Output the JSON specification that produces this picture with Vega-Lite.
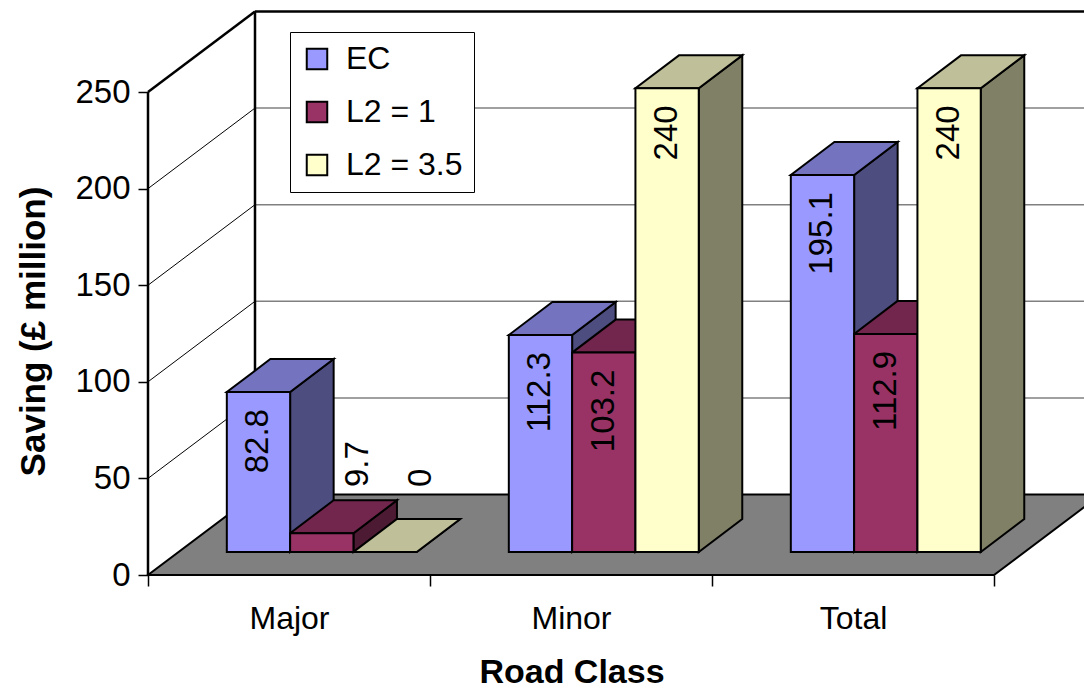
{
  "$schema": "https://vega.github.io/schema/vega-lite/v6.json",
  "width": 936,
  "height": 564,
  "autosize": {"type": "none"},
  "padding": {"left": 148, "top": 11, "right": 0, "bottom": 114},
  "background": "white",
  "config": {"view": {"stroke": null}, "font": "Liberation Sans"},
  "resolve": {"axis": {"x": "independent", "y": "independent"}},
  "datasets": {
    "savings": [
      {"road": "Major", "series": "EC", "value": 82.8},
      {"road": "Major", "series": "L2 = 1", "value": 9.7},
      {"road": "Major", "series": "L2 = 3.5", "value": 0},
      {"road": "Minor", "series": "EC", "value": 112.3},
      {"road": "Minor", "series": "L2 = 1", "value": 103.2},
      {"road": "Minor", "series": "L2 = 3.5", "value": 240},
      {"road": "Total", "series": "EC", "value": 195.1},
      {"road": "Total", "series": "L2 = 1", "value": 112.9},
      {"road": "Total", "series": "L2 = 3.5", "value": 240}
    ],
    "gridlines": [{"v": 0}, {"v": 50}, {"v": 100}, {"v": 150}, {"v": 200}, {"v": 250}],
    "planes": [{"edge": "front"}, {"edge": "back"}]
  },
  "layer": [
    {
      "data": {"name": "planes"},
      "transform": [
        {"calculate": "datum.edge === 'back' ? 1 : 0", "as": "t"},
        {"calculate": "datum.t * 41.667", "as": "fy"},
        {"calculate": "datum.t * 0.37943", "as": "fx0"},
        {"calculate": "3 + datum.t * 0.37943", "as": "fx1"}
      ],
      "mark": {"type": "area", "orient": "horizontal", "fill": "#808080", "stroke": "black", "strokeWidth": 2},
      "encoding": {
        "y": {"field": "fy", "type": "quantitative", "scale": {"domain": [0, 291.93], "nice": false, "zero": false}, "axis": null},
        "x": {"field": "fx0", "type": "quantitative", "stack": null, "scale": {"domain": [0, 3.31915], "nice": false, "zero": false}, "axis": null},
        "x2": {"field": "fx1"}
      }
    },
    {
      "data": {"name": "gridlines"},
      "transform": [
        {"calculate": "datum.v + 41.667", "as": "vb"},
        {"calculate": "0", "as": "gx0"},
        {"calculate": "0.37943", "as": "gx1"}
      ],
      "mark": {"type": "rule", "color": "black"},
      "encoding": {
        "x": {
          "field": "gx0", "type": "quantitative",
          "scale": {"domain": [0, 3.31915], "nice": false, "zero": false},
          "axis": {
            "orient": "bottom",
            "values": [0, 0.5, 1, 1.5, 2, 2.5, 3],
            "labelExpr": "datum.value % 1 === 0 ? '' : ['Major','Minor','Total'][floor(datum.value)]",
            "domain": false, "grid": false, "tickSize": 11, "tickColor": "black", "tickWidth": 1.5,
            "tickOpacity": {"condition": {"test": "datum.value % 1 !== 0", "value": 0}, "value": 1},
            "labelFontSize": 32, "labelColor": "black", "labelPadding": 42, "labelBaseline": "alphabetic",
            "labelFlush": false, "labelOverlap": false,
            "title": "Road Class", "titleFontSize": 34, "titleFontWeight": "bold", "titleColor": "black",
            "titleX": 423.5, "titleY": 107, "titleAlign": "center", "titleBaseline": "alphabetic"
          }
        },
        "x2": {"field": "gx1"},
        "y": {
          "field": "v", "type": "quantitative",
          "scale": {"domain": [0, 291.93], "nice": false, "zero": false},
          "axis": {
            "orient": "left",
            "values": [0, 50, 100, 150, 200, 250],
            "domain": false, "grid": false, "ticks": true, "tickSize": 10, "tickColor": "black", "tickWidth": 1.5,
            "labelFontSize": 33, "labelColor": "black", "labelPadding": 8, "labelOverlap": false,
            "title": "Saving (£ million)", "titleFontSize": 35, "titleFontWeight": "bold", "titleColor": "black",
            "titleAngle": 270, "titleX": -115, "titleY": 320, "titleAlign": "center", "titleBaseline": "middle"
          }
        },
        "y2": {"field": "vb"},
        "strokeOpacity": {"condition": {"test": "datum.v === 0", "value": 0}, "value": 1},
        "strokeWidth": {"condition": {"test": "datum.v === 250", "value": 2.5}, "value": 1}
      }
    },
    {
      "data": {"name": "gridlines"},
      "transform": [
        {"filter": "datum.v > 0"},
        {"calculate": "datum.v + 41.667", "as": "vb"},
        {"calculate": "0.37943", "as": "gx0"},
        {"calculate": "3.5", "as": "gx1"}
      ],
      "mark": {"type": "rule"},
      "encoding": {
        "x": {"field": "gx0", "type": "quantitative", "scale": {"domain": [0, 3.31915], "nice": false, "zero": false}, "axis": null},
        "x2": {"field": "gx1"},
        "y": {"field": "vb", "type": "quantitative", "scale": {"domain": [0, 291.93], "nice": false, "zero": false}, "axis": null},
        "color": {"condition": {"test": "datum.v === 250", "value": "black"}, "value": "#808080"},
        "strokeWidth": {"condition": {"test": "datum.v === 250", "value": 2.5}, "value": 1.5}
      }
    },
    {
      "data": {"name": "planes"},
      "transform": [
        {"calculate": "datum.edge === 'back' ? 1 : 0", "as": "t"},
        {"calculate": "datum.t * 0.37943", "as": "ex"},
        {"calculate": "datum.t * 41.667", "as": "ey0"},
        {"calculate": "250 + datum.t * 41.667", "as": "ey1"}
      ],
      "mark": {"type": "rule", "color": "black", "strokeWidth": 2.5},
      "encoding": {
        "x": {"field": "ex", "type": "quantitative", "scale": {"domain": [0, 3.31915], "nice": false, "zero": false}, "axis": null},
        "y": {"field": "ey0", "type": "quantitative", "scale": {"domain": [0, 291.93], "nice": false, "zero": false}, "axis": null},
        "y2": {"field": "ey1"}
      }
    },
    {
      "data": {"name": "savings"},
      "transform": [
        {"calculate": "indexof(['Major','Minor','Total'], datum.road)", "as": "ci"},
        {"calculate": "indexof(['EC','L2 = 1','L2 = 3.5'], datum.series)", "as": "si"},
        {"calculate": "datum.ci + 0.171 + datum.si * 0.2245 + 0.1085", "as": "bx0"},
        {"calculate": "datum.bx0 + 0.2245", "as": "bx1"},
        {"calculate": "11.905", "as": "yb"},
        {"calculate": "datum.value + 11.905", "as": "yt"},
        {"calculate": "datum.road + '|' + datum.series", "as": "bar"},
        {"calculate": "0", "as": "p0"},
        {"calculate": "1", "as": "p1"},
        {"fold": ["p0", "p1"], "as": ["pk", "t"]},
        {"calculate": "datum.bx1 + datum.t * 0.1543", "as": "sx"},
        {"calculate": "datum.yb + datum.t * 17.08", "as": "sy0"},
        {"calculate": "datum.yt + datum.t * 17.08", "as": "sy1"}
      ],
      "mark": {"type": "area", "orient": "vertical", "stroke": "black", "strokeWidth": 2},
      "encoding": {
        "x": {"field": "sx", "type": "quantitative", "scale": {"domain": [0, 3.31915], "nice": false, "zero": false}, "axis": null},
        "y": {"field": "sy1", "type": "quantitative", "stack": null, "scale": {"domain": [0, 291.93], "nice": false, "zero": false}, "axis": null},
        "y2": {"field": "sy0"},
        "detail": {"field": "bar", "type": "nominal"},
        "fill": {"condition": [{"test": "datum.series === 'EC'", "value": "#4D4D80"}, {"test": "datum.series === 'L2 = 1'", "value": "#4D1A33"}], "value": "#808066"},
        "fillOpacity": {"value": 1}
      }
    },
    {
      "data": {"name": "savings"},
      "transform": [
        {"calculate": "indexof(['Major','Minor','Total'], datum.road)", "as": "ci"},
        {"calculate": "indexof(['EC','L2 = 1','L2 = 3.5'], datum.series)", "as": "si"},
        {"calculate": "datum.ci + 0.171 + datum.si * 0.2245 + 0.1085", "as": "bx0"},
        {"calculate": "datum.bx0 + 0.2245", "as": "bx1"},
        {"calculate": "datum.value + 11.905", "as": "yt"},
        {"calculate": "datum.road + '|' + datum.series", "as": "bar"},
        {"calculate": "0", "as": "p0"},
        {"calculate": "1", "as": "p1"},
        {"fold": ["p0", "p1"], "as": ["pk", "t"]},
        {"calculate": "datum.yt + datum.t * 17.08", "as": "ty"},
        {"calculate": "datum.bx0 + datum.t * 0.1543", "as": "tx0"},
        {"calculate": "datum.bx1 + datum.t * 0.1543", "as": "tx1"}
      ],
      "mark": {"type": "area", "orient": "horizontal", "stroke": "black", "strokeWidth": 2},
      "encoding": {
        "y": {"field": "ty", "type": "quantitative", "scale": {"domain": [0, 291.93], "nice": false, "zero": false}, "axis": null},
        "x": {"field": "tx0", "type": "quantitative", "stack": null, "scale": {"domain": [0, 3.31915], "nice": false, "zero": false}, "axis": null},
        "x2": {"field": "tx1"},
        "detail": {"field": "bar", "type": "nominal"},
        "fill": {"condition": [{"test": "datum.series === 'EC'", "value": "#7373BF"}, {"test": "datum.series === 'L2 = 1'", "value": "#73264D"}], "value": "#BFBF99"},
        "fillOpacity": {"value": 1}
      }
    },
    {
      "data": {"name": "savings"},
      "transform": [
        {"calculate": "indexof(['Major','Minor','Total'], datum.road)", "as": "ci"},
        {"calculate": "indexof(['EC','L2 = 1','L2 = 3.5'], datum.series)", "as": "si"},
        {"calculate": "datum.ci + 0.171 + datum.si * 0.2245 + 0.1085", "as": "bx0"},
        {"calculate": "datum.bx0 + 0.2245", "as": "bx1"},
        {"calculate": "11.905", "as": "yb"},
        {"calculate": "datum.value + 11.905", "as": "yt"}
      ],
      "mark": {"type": "rect", "stroke": "black", "strokeWidth": 2, "opacity": 1},
      "encoding": {
        "x": {"field": "bx0", "type": "quantitative", "scale": {"domain": [0, 3.31915], "nice": false, "zero": false}, "axis": null},
        "x2": {"field": "bx1"},
        "y": {"field": "yb", "type": "quantitative", "scale": {"domain": [0, 291.93], "nice": false, "zero": false}, "axis": null},
        "y2": {"field": "yt"},
        "color": {
          "field": "series", "type": "nominal",
          "scale": {"domain": ["EC", "L2 = 1", "L2 = 3.5"], "range": ["#9999FF", "#993366", "#FFFFCC"]},
          "legend": {
            "title": null, "orient": "none", "legendX": 142, "legendY": 21,
            "symbolType": "square", "symbolSize": 420, "symbolStrokeColor": "black", "symbolStrokeWidth": 2, "symbolOpacity": 1,
            "labelFontSize": 32, "labelColor": "black", "labelOffset": 13, "labelLimit": 400,
            "rowPadding": 21, "padding": 11, "strokeColor": "black", "fillColor": "white"
          }
        }
      }
    },
    {
      "data": {"name": "savings"},
      "transform": [
        {"filter": "datum.value >= 30"},
        {"calculate": "indexof(['Major','Minor','Total'], datum.road)", "as": "ci"},
        {"calculate": "indexof(['EC','L2 = 1','L2 = 3.5'], datum.series)", "as": "si"},
        {"calculate": "datum.ci + 0.171 + datum.si * 0.2245 + 0.1085 + 0.11225", "as": "lx"},
        {"calculate": "datum.value + 11.905", "as": "ly"}
      ],
      "mark": {"type": "text", "angle": 270, "align": "right", "baseline": "middle", "dx": -17, "fontSize": 33, "color": "black"},
      "encoding": {
        "x": {"field": "lx", "type": "quantitative", "scale": {"domain": [0, 3.31915], "nice": false, "zero": false}, "axis": null},
        "y": {"field": "ly", "type": "quantitative", "scale": {"domain": [0, 291.93], "nice": false, "zero": false}, "axis": null},
        "text": {"field": "value", "type": "nominal"}
      }
    },
    {
      "data": {"name": "savings"},
      "transform": [
        {"filter": "datum.value < 30"},
        {"calculate": "indexof(['Major','Minor','Total'], datum.road)", "as": "ci"},
        {"calculate": "indexof(['EC','L2 = 1','L2 = 3.5'], datum.series)", "as": "si"},
        {"calculate": "datum.ci + 0.171 + datum.si * 0.2245 + 0.1085 + 0.11225", "as": "lx"},
        {"calculate": "45.5", "as": "ly"}
      ],
      "mark": {"type": "text", "angle": 270, "align": "left", "baseline": "middle", "dy": 36, "fontSize": 33, "color": "black"},
      "encoding": {
        "x": {"field": "lx", "type": "quantitative", "scale": {"domain": [0, 3.31915], "nice": false, "zero": false}, "axis": null},
        "y": {"field": "ly", "type": "quantitative", "scale": {"domain": [0, 291.93], "nice": false, "zero": false}, "axis": null},
        "text": {"field": "value", "type": "nominal"}
      }
    }
  ]
}
